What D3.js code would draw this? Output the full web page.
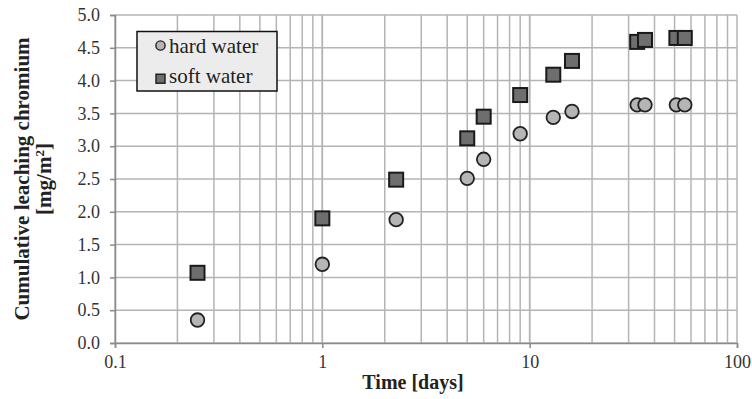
<!DOCTYPE html>
<html><head><meta charset="utf-8">
<script src="https://cdn.jsdelivr.net/npm/d3@7"></script>
<style>body{margin:0;background:#fff}svg{display:block}text{font-family:'Liberation Serif','Times New Roman',serif}</style>
</head><body>
<script>
const days = [0.25, 1, 2.27, 5, 6, 9, 13, 16, 33, 36, 51, 56];
const hardWater = [0.35, 1.20, 1.88, 2.51, 2.80, 3.19, 3.44, 3.53, 3.63, 3.63, 3.63, 3.63];
const softWater = [1.07, 1.90, 2.49, 3.12, 3.45, 3.78, 4.09, 4.30, 4.59, 4.62, 4.65, 4.65];
const xTickLabels = ["0.1", "1", "10", "100"];
const yTickLabels = ["0.0","0.5","1.0","1.5","2.0","2.5","3.0","3.5","4.0","4.5","5.0"];

const W = 752, H = 399;
const svg = d3.select("body").append("svg").attr("width", W).attr("height", H);
const x = d3.scaleLog().domain([0.1, 100]).range([115, 737]);
const y = d3.scaleLinear().domain([0, 5]).range([343, 15]);
const font = "'Liberation Serif', 'Times New Roman', serif";

// minor+major vertical grid
const xGrid = [];
[0.1, 1, 10].forEach(d => { for (let k = 1; k <= 10; k++) xGrid.push(d * k); });
svg.append("g").selectAll("line").data(xGrid).join("line")
  .attr("x1", d => x(d)).attr("x2", d => x(d)).attr("y1", y(5)).attr("y2", y(0))
  .attr("stroke", "#b4b4b4").attr("stroke-width", 1.5);
svg.append("g").selectAll("line").data(yTickLabels.map(Number)).join("line")
  .attr("x1", x(0.1)).attr("x2", x(100)).attr("y1", d => y(d)).attr("y2", d => y(d))
  .attr("stroke", "#b4b4b4").attr("stroke-width", 1.5);

// axes
const yAxis = d3.axisLeft(y).tickValues(yTickLabels.map(Number)).tickFormat((d, i) => yTickLabels[i]).tickSize(5).tickPadding(10);
const gy = svg.append("g").attr("transform", `translate(${x(0.1)},0)`).call(yAxis);
const xAxis = d3.axisBottom(x).tickValues(xTickLabels.map(Number)).tickFormat((d, i) => xTickLabels[i]).tickSize(5).tickPadding(7);
const gx = svg.append("g").attr("transform", `translate(0,${y(0)})`).call(xAxis);
[gx, gy].forEach(g => {
  g.attr("font-family", font).attr("font-size", 18);
  g.select(".domain").attr("stroke", "#8a8a8a").attr("stroke-width", 1.5);
  g.selectAll(".tick line").attr("stroke", "#8a8a8a").attr("stroke-width", 1.5);
  g.selectAll("text").style("font-family", font).style("font-size", "18px").attr("fill", "#333");
});

// titles
svg.append("text").attr("x", 413).attr("y", 389).attr("text-anchor", "middle")
  .style("font-family", font).style("font-size", "20px").style("font-weight", "bold").attr("fill", "#222")
  .text("Time [days]");
const yt = svg.append("text").attr("transform", "translate(29,179) rotate(-90)").attr("text-anchor", "middle")
  .style("font-family", font).style("font-size", "21px").style("font-weight", "bold").attr("fill", "#222");
yt.append("tspan").attr("x", 0).attr("dy", 0).text("Cumulative leaching chromium");
const t2 = yt.append("tspan").attr("x", 0).attr("dy", 22).text("[mg/m");
t2.append("tspan").attr("dy", -7).style("font-size", "13px").text("2");
t2.append("tspan").attr("dy", 7).text("]");

// points
const hard = days.map((d, i) => [d, hardWater[i]]);
const soft = days.map((d, i) => [d, softWater[i]]);
svg.append("g").selectAll("circle").data(hard).join("circle")
  .attr("cx", d => x(d[0])).attr("cy", d => y(d[1])).attr("r", 6.8)
  .attr("fill", "#b5b5b5").attr("stroke", "#222").attr("stroke-width", 1.8);
svg.append("g").selectAll("rect").data(soft).join("rect")
  .attr("x", d => x(d[0]) - 7).attr("y", d => y(d[1]) - 7).attr("width", 14).attr("height", 14)
  .attr("fill", "#6e6e6e").attr("stroke", "#1a1a1a").attr("stroke-width", 2);

// legend
const lg = svg.append("g");
lg.append("rect").attr("x", 137).attr("y", 31.5).attr("width", 140).attr("height", 59.5)
  .attr("fill", "#ececec").attr("stroke", "#111").attr("stroke-width", 1.5);
lg.append("circle").attr("cx", 160.5).attr("cy", 45.5).attr("r", 4.6)
  .attr("fill", "#b5b5b5").attr("stroke", "#222").attr("stroke-width", 1.4);
lg.append("rect").attr("x", 156).attr("y", 74.2).attr("width", 9).attr("height", 9)
  .attr("fill", "#6e6e6e").attr("stroke", "#1a1a1a").attr("stroke-width", 1.4);
lg.append("text").attr("x", 169).attr("y", 53).style("font-family", font).style("font-size", "21px").attr("fill", "#222").text("hard water");
lg.append("text").attr("x", 169).attr("y", 83).style("font-family", font).style("font-size", "21px").attr("fill", "#222").text("soft water");
</script>
</body></html>
